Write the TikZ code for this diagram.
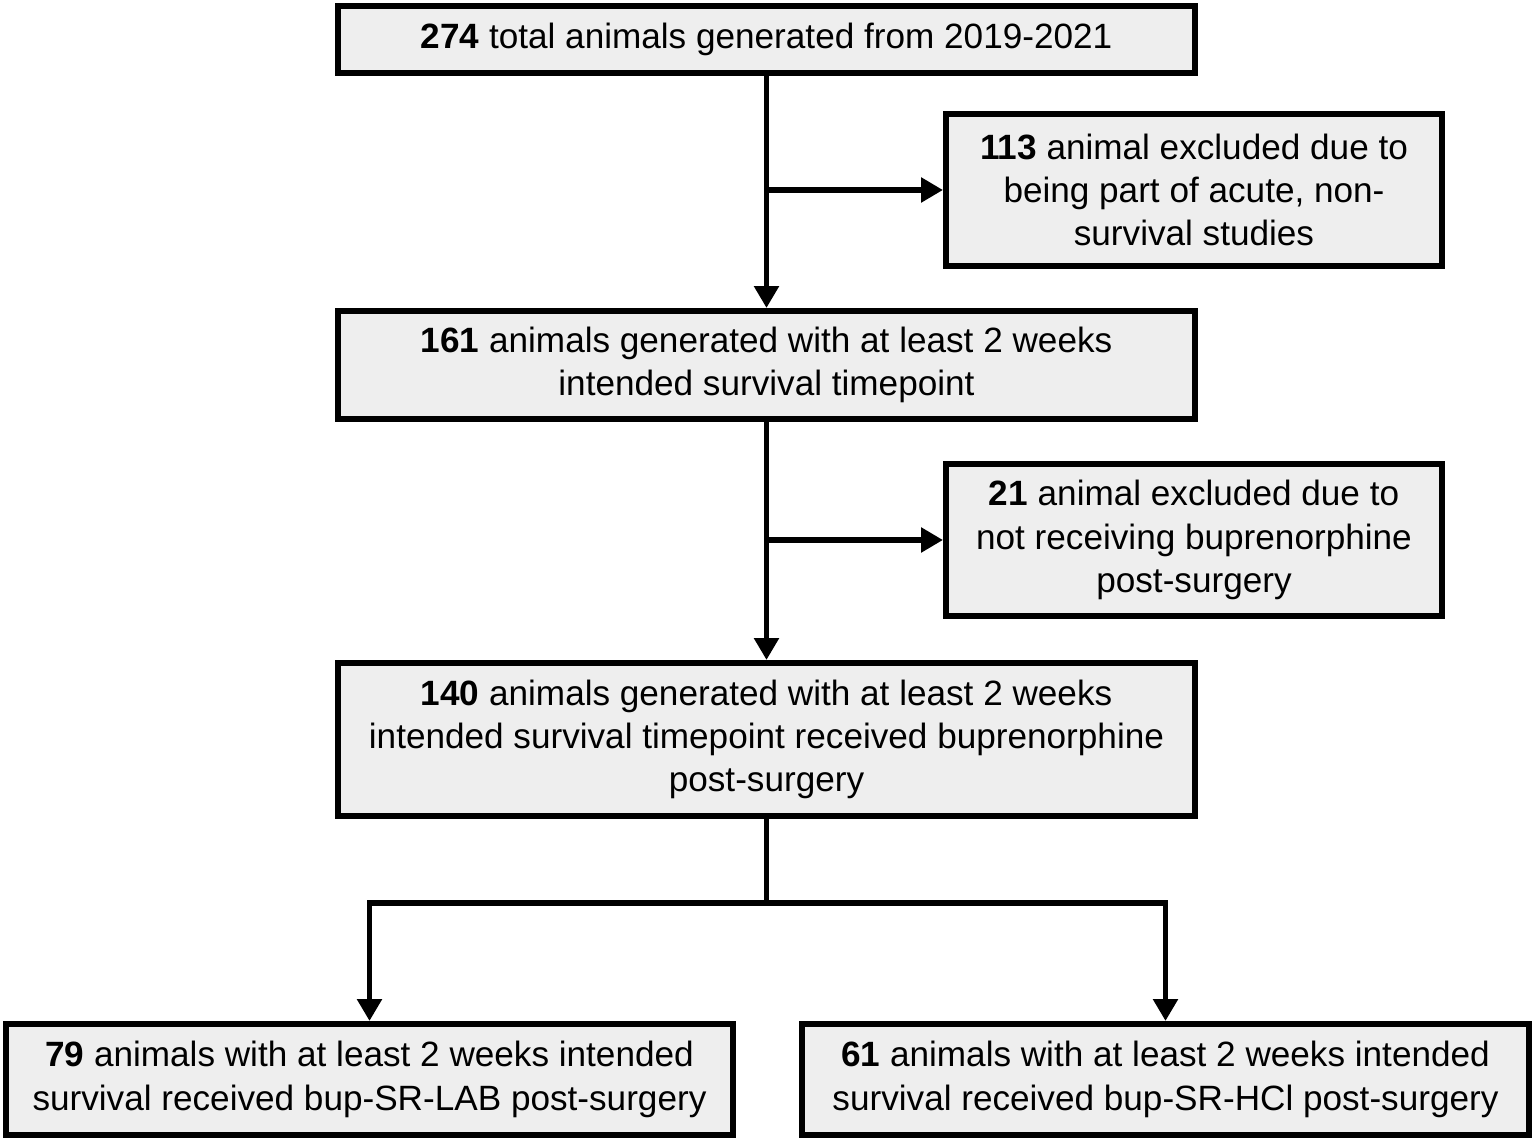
\documentclass[tikz,border=0pt]{standalone}
\usepackage{fontspec}
\setmainfont{Liberation Sans}
\usetikzlibrary{arrows.meta}
\definecolor{boxgray}{HTML}{EEEEEE}
\tikzset{
    stagebox/.style={draw, fill=boxgray, line width=1.7pt, align=center,
        inner sep=0pt, font=\fontsize{10}{12.3}\selectfont},
    flow/.style={line width=1.7pt, -{Triangle[length=0.22cm,width=0.24cm]}},
    joinline/.style={line width=1.7pt}
}
\begin{document}
\begin{tikzpicture}
    \useasboundingbox (0,0) rectangle (15.35,-11.41);

    % Main stages
    \node[stagebox, minimum width=8.57cm, minimum height=0.67cm] (total) at (7.665,-0.395)
        {\textbf{274} total animals generated from 2019-2021};
    \node[stagebox, minimum width=8.57cm, minimum height=1.08cm] (twoweek) at (7.665,-3.65)
        {\textbf{161} animals generated with at least 2 weeks\\intended survival timepoint};
    \node[stagebox, minimum width=8.57cm, minimum height=1.53cm] (bup) at (7.665,-7.395)
        {\textbf{140} animals generated with at least 2 weeks\\intended survival timepoint received buprenorphine\\post-surgery};

    % Exclusions
    \node[stagebox, minimum width=4.96cm, minimum height=1.52cm] (acute) at (11.94,-1.90)
        {\textbf{113} animal excluded due to\\being part of acute, non-\\survival studies};
    \node[stagebox, minimum width=4.96cm, minimum height=1.52cm] (nobup) at (11.94,-5.40)
        {\textbf{21} animal excluded due to\\not receiving buprenorphine\\post-surgery};

    % Final groups
    \node[stagebox, minimum width=7.27cm, minimum height=1.11cm] (lab) at (3.695,-10.795)
        {\textbf{79} animals with at least 2 weeks intended\\survival received bup-SR-LAB post-surgery};
    \node[stagebox, minimum width=7.27cm, minimum height=1.11cm] (hcl) at (11.655,-10.795)
        {\textbf{61} animals with at least 2 weeks intended\\survival received bup-SR-HCl post-surgery};

    % Connectors
    \draw[flow] (total) -- (twoweek);
    \draw[flow] (total.south |- acute.west) -- (acute.west);
    \draw[flow] (twoweek) -- (bup);
    \draw[flow] (twoweek.south |- nobup.west) -- (nobup.west);

    \coordinate (split) at (7.665,-9.03);
    \draw[joinline] (bup) -- (split);
    \draw[flow] (split) -| (lab.north);
    \draw[flow] (split) -| (hcl.north);
\end{tikzpicture}
\end{document}
